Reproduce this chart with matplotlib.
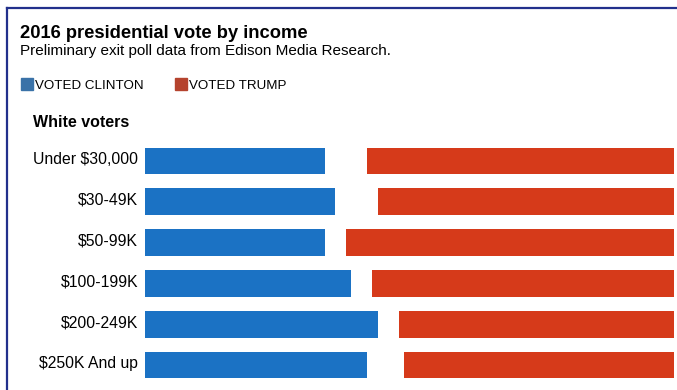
import matplotlib
matplotlib.use("Agg")
import matplotlib.pyplot as plt
import matplotlib.transforms as mtransforms
from matplotlib.patches import Rectangle
from matplotlib.lines import Line2D

# dados (percentual de votos, eleitores brancos)
faixas = ["Under $30,000", "$30-49K", "$50-99K", "$100-199K", "$200-249K", "$250K And up"]
clinton = [34, 36, 34, 39, 44, 42]
trump = [58, 56, 62, 57, 52, 51]

AZUL = "#1b72c4"
VERMELHO = "#d63a1a"
W, H = 677, 390

plt.rcParams["font.family"] = ["Liberation Sans", "DejaVu Sans"]

fig = plt.figure(figsize=(W / 100, H / 100), dpi=100)


def fx(px):
    return px / W


def fy(py):
    return 1 - py / H


# eixo das barras
ax = fig.add_axes([fx(145), fy(385.4), fx(674) - fx(145), fy(140.6) - fy(385.4)])
y = list(range(len(faixas)))
ax.barh(y, clinton, left=0, height=0.66, color=AZUL)
ax.barh(y, trump, left=[100 - t for t in trump], height=0.66, color=VERMELHO)
ax.set_xlim(0, 100)
ax.set_ylim(len(faixas) - 0.5, -0.5)
ax.set_yticks(y)
ax.set_yticklabels(faixas, fontsize=11.3)
ax.tick_params(axis="y", length=0, pad=5)
ax.set_xticks([])
for s in ax.spines.values():
    s.set_visible(False)
desloc = mtransforms.ScaledTranslation(0, 3 / 100, fig.dpi_scale_trans)
for lab in ax.get_yticklabels():
    lab.set_transform(lab.get_transform() + desloc)

# textos
fig.text(fx(20), fy(38.5), "2016 presidential vote by income", fontsize=13.2,
         fontweight="bold", va="baseline")
fig.text(fx(20), fy(55.5), "Preliminary exit poll data from Edison Media Research.",
         fontsize=11, va="baseline")

# legenda
fig.patches.append(Rectangle((fx(21), fy(90)), fx(12), fy(78) - fy(90),
                             transform=fig.transFigure, color="#3a72a8"))
fig.text(fx(35), fy(89.3), "VOTED CLINTON", fontsize=9.6, va="baseline")
fig.patches.append(Rectangle((fx(175), fy(90)), fx(12), fy(78) - fy(90),
                             transform=fig.transFigure, color="#b5432e"))
fig.text(fx(189), fy(89.3), "VOTED TRUMP", fontsize=9.6, va="baseline")

fig.text(fx(33), fy(127), "White voters", fontsize=11.5, fontweight="bold", va="baseline")

# moldura azul (topo e esquerda)
fig.add_artist(Line2D([fx(7), 1], [fy(8), fy(8)], color="#22308c", lw=1.6))
fig.add_artist(Line2D([fx(7), fx(7)], [fy(8), 0], color="#22308c", lw=1.6))

fig.savefig("out.png", dpi=100)
